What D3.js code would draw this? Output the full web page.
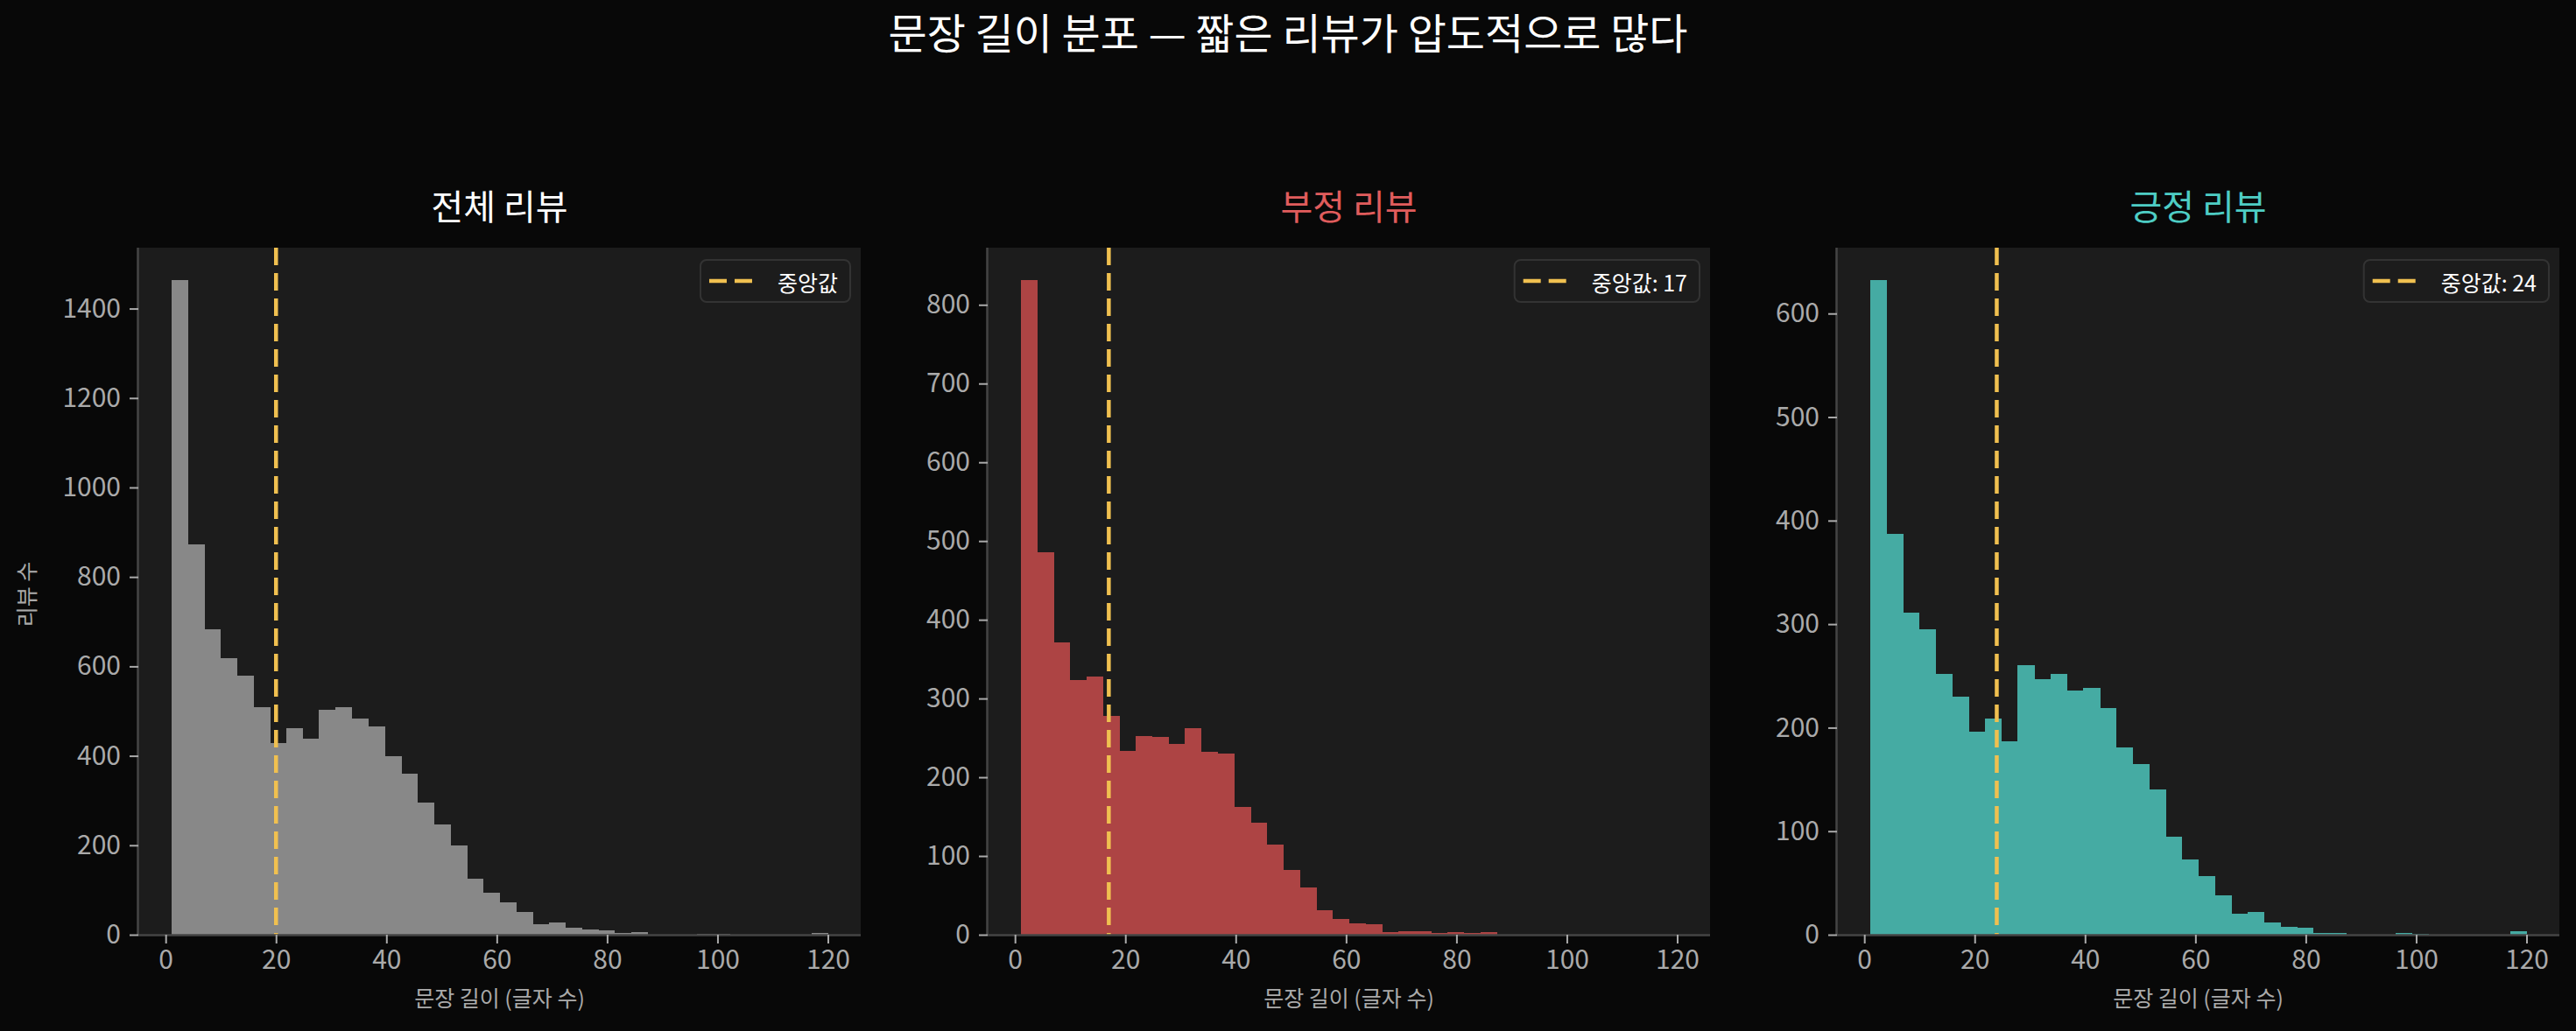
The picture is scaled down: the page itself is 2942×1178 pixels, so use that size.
<!DOCTYPE html>
<html>
<head>
<meta charset="utf-8">
<script src="https://cdn.jsdelivr.net/npm/d3@7"></script>
<style>
  html, body { margin: 0; padding: 0; background: #080808; }
  svg { display: block; }
  text { font-family: "Noto Sans CJK KR", "Noto Sans", sans-serif; }
</style>
</head>
<body>
<svg id="chart" width="2942" height="1178"></svg>
<script>
// ---- data ----
const binStart = 1;
const binEnd = 120;
const binCount = 40;

const allCounts = [1463, 873, 682, 619, 580, 508, 429, 461, 438, 502, 509, 484, 466, 400, 361, 295, 247, 200, 126, 93,
                   72, 51, 23, 27, 16, 11, 10, 4, 5, 0, 0, 0, 2, 1, 0, 0, 0, 0, 0, 3];
const negCounts = [831, 486, 371, 324, 328, 278, 233, 252, 251, 242, 262, 232, 230, 162, 142, 114, 82, 60, 31, 20,
                   15, 13, 3, 5, 4, 2, 3, 2, 3, 0, 0, 0, 0, 0, 0, 0, 0, 0, 0, 0];
const posCounts = [632, 387, 311, 295, 252, 230, 196, 209, 187, 260, 247, 252, 236, 238, 219, 181, 165, 140, 95, 73,
                   57, 38, 20, 22, 12, 8, 7, 2, 2, 0, 0, 0, 2, 1, 0, 0, 0, 0, 0, 3];

const panelTitles = ["전체 리뷰", "부정 리뷰", "긍정 리뷰"];
const medians = [20, 17, 24];
const legendLabels = ["중앙값", "중앙값: 17", "중앙값: 24"];
const xTicks = [0, 20, 40, 60, 80, 100, 120];
const yTicksAll = [0, 200, 400, 600, 800, 1000, 1200, 1400];
const yTicksNeg = [0, 100, 200, 300, 400, 500, 600, 700, 800];
const yTicksPos = [0, 100, 200, 300, 400, 500, 600];

const mainTitle = "문장 길이 분포 — 짧은 리뷰가 압도적으로 많다";
const xLabel = "문장 길이 (글자 수)";
const yLabel = "리뷰 수";

// ---- styles ----
const barColors = ["#888888", "#ad4444", "#45aba3"];
const titleColors = ["#ffffff", "#e05c5c", "#4ecdc4"];
const medianColor = "#f0c050";
const panelBg = "#1c1c1c";
const tickColor = "#aaaaaa";
const spineColor = "#444444";

const svg = d3.select("#chart");
svg.append("rect").attr("width", 2942).attr("height", 1178).attr("fill", "#080808");

svg.append("text")
  .attr("x", 1471).attr("y", 56)
  .attr("text-anchor", "middle")
  .attr("fill", "#ffffff")
  .attr("font-size", 48)
  .text(mainTitle);

const panelLefts = [158, 1128, 2098];
const panelW = 825;
const plotTop = 283, plotBottom = 1068;

const series = [allCounts, negCounts, posCounts];
const yTickSets = [yTicksAll, yTicksNeg, yTicksPos];

const binW = (binEnd - binStart) / binCount;
const pad = (binEnd - binStart) * 0.05;

series.forEach((counts, p) => {
  const left = panelLefts[p];
  const g = svg.append("g");
  const x = d3.scaleLinear().domain([binStart - pad, binEnd + pad]).range([left, left + panelW]);
  const y = d3.scaleLinear().domain([0, d3.max(counts) * 1.05]).range([plotBottom, plotTop]);

  g.append("rect")
    .attr("x", left).attr("y", plotTop)
    .attr("width", panelW).attr("height", plotBottom - plotTop)
    .attr("fill", panelBg);

  const bins = counts.map((c, i) => ({ x0: binStart + i * binW, x1: binStart + (i + 1) * binW, c }));
  g.selectAll("rect.bar").data(bins).enter().append("rect")
    .attr("class", "bar")
    .attr("x", d => x(d.x0))
    .attr("width", d => x(d.x1) - x(d.x0) + 0.6)
    .attr("y", d => y(d.c))
    .attr("height", d => plotBottom - y(d.c))
    .attr("shape-rendering", "crispEdges")
    .attr("fill", barColors[p]);

  // median line
  g.append("line")
    .attr("x1", x(medians[p])).attr("x2", x(medians[p]))
    .attr("y1", plotTop).attr("y2", plotBottom)
    .attr("stroke", medianColor)
    .attr("stroke-width", 4.5)
    .attr("stroke-dasharray", "20,9");

  // axes
  const xAxis = d3.axisBottom(x).tickValues(xTicks).tickSize(10).tickPadding(8).tickFormat(d3.format("d"));
  const xg = g.append("g").attr("transform", `translate(0,${plotBottom})`).call(xAxis);
  const yAxis = d3.axisLeft(y).tickValues(yTickSets[p]).tickSize(10).tickPadding(10).tickFormat(d3.format("d"));
  const yg = g.append("g").attr("transform", `translate(${left},0)`).call(yAxis);
  [xg, yg].forEach(ax => {
    ax.select(".domain").attr("stroke", spineColor).attr("stroke-width", 2.5);
    ax.selectAll(".tick line").attr("stroke", tickColor).attr("stroke-width", 2);
    ax.selectAll(".tick text").attr("fill", tickColor).attr("font-size", 30)
      .attr("font-family", "'Noto Sans CJK KR', 'Noto Sans', sans-serif");
  });
  xg.select(".domain").attr("d", `M${left},0.5H${left + panelW}`);
  yg.select(".domain").attr("d", `M-0.5,${plotTop}V${plotBottom}`);

  // subplot title
  g.append("text")
    .attr("x", left + panelW / 2).attr("y", 251)
    .attr("text-anchor", "middle")
    .attr("fill", titleColors[p])
    .attr("font-size", 40)
    .text(panelTitles[p]);

  // x label
  g.append("text")
    .attr("x", left + panelW / 2).attr("y", 1150)
    .attr("text-anchor", "middle")
    .attr("fill", tickColor)
    .attr("font-size", 25)
    .text(xLabel);

  // legend
  const lg = g.append("g");
  const lt = lg.append("text")
    .attr("fill", "#ffffff")
    .attr("font-size", 25)
    .attr("dominant-baseline", "central")
    .text(legendLabels[p]);
  const tw = lt.node().getComputedTextLength();
  const boxW = 10 + 49 + 29 + tw + 14;
  const boxR = left + panelW - 12;
  const boxL = boxR - boxW;
  const boxT = 297, boxH = 48;
  lg.insert("rect", "text")
    .attr("x", boxL).attr("y", boxT)
    .attr("width", boxW).attr("height", boxH)
    .attr("rx", 7)
    .attr("fill", "#1c1c1c")
    .attr("stroke", "#333333")
    .attr("stroke-width", 2);
  lg.append("line")
    .attr("x1", boxL + 10).attr("x2", boxL + 59)
    .attr("y1", boxT + boxH / 2).attr("y2", boxT + boxH / 2)
    .attr("stroke", medianColor)
    .attr("stroke-width", 4.5)
    .attr("stroke-dasharray", "20,9");
  lt.attr("x", boxL + 88).attr("y", boxT + boxH / 2 + 1);
});

// y label
svg.append("text")
  .attr("transform", "translate(40,679) rotate(-90)")
  .attr("text-anchor", "middle")
  .attr("fill", tickColor)
  .attr("font-size", 25)
  .text(yLabel);
</script>
</body>
</html>
